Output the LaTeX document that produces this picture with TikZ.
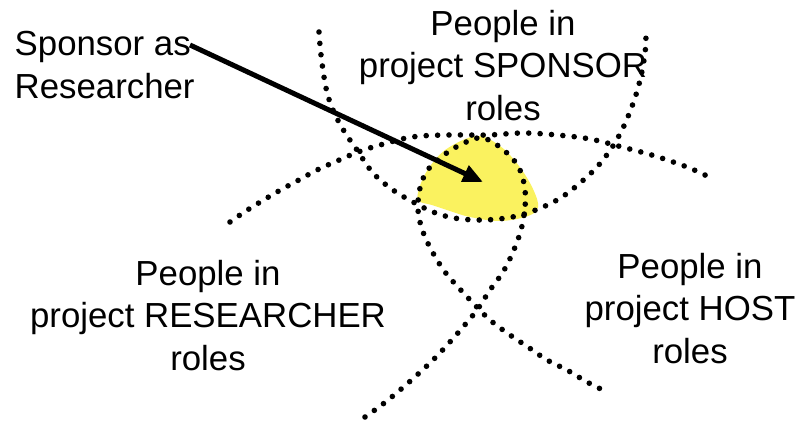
\documentclass[tikz,border=0pt]{standalone}
\usepackage{fontspec}
\setmainfont{Liberation Sans}
\usetikzlibrary{arrows.meta}
\definecolor{overlapfill}{RGB}{250,242,95}
\begin{document}
\begin{tikzpicture}[x=1pt,y=-1pt,
  lbl/.style={align=center, font=\fontsize{34.8}{42.5}\selectfont, inner sep=0pt},
  dots/.style={line width=5.6pt, line cap=round, dash pattern=on 0pt off 11.4pt},
  pointer/.style={line width=5pt, -{Triangle[length=20pt,width=17pt]}}
]
\useasboundingbox (0,0) rectangle (799,420);

% overlap of the three role groups
\fill[overlapfill] plot[smooth cycle, tension=0.6] coordinates {
  (418,200) (421,183) (431,165) (448,148) (477,136) (500,146) (519,166)
  (533,189) (538,207) (528,216) (500,221) (470,217) (450,211) (432,205)};

% sponsor boundary (U shape)
\draw[dots] plot[smooth, tension=0.6] coordinates {
  (319,32) (321,55) (326,88) (333,110) (344,131) (357,150) (373,173)
  (393,190) (413,202) (433,212) (454,218) (477,220) (499,219) (521,215)
  (543,207) (562,197) (580,183) (597,167) (611,149) (622,130) (631,109)
  (638,88) (643,66) (646,43) (645,32)};

% upper arch
\draw[dots] plot[smooth, tension=0.6] coordinates {
  (230,222) (249,209) (277,192) (297,181) (317,170) (337,161) (358,152)
  (380,145) (412,137) (447,135) (488,135) (523,133) (557,135) (590,139)
  (622,147) (655,156) (687,167) (707,176)};

% researcher / host boundaries crossing below
\draw[dots] plot[smooth, tension=0.6] coordinates {
  (365,417) (383,404) (400,390) (417,375) (434,359) (449,343) (463,327)
  (477,310) (490,290) (503,272) (513,252) (521,230) (525,207) (525,190)
  (520,170) (507,153) (483,138) (460,145) (440,158) (427,171) (420,188)
  (418,210) (423,232) (433,253) (445,272) (458,287) (473,303) (490,320)
  (510,335) (528,347) (547,360) (567,370) (587,382) (607,392)};

% labels
\node[lbl, anchor=north west, align=left] (sponsor) at (14.5,31.5) {Sponsor as\\Researcher};
\node[lbl, anchor=north] (sponsorroles) at (503,10) {People in\\project SPONSOR\\roles};
\node[lbl, anchor=north] (researcherroles) at (208,260) {People in\\project RESEARCHER\\roles};
\node[lbl, anchor=north] (hostroles) at (690,253) {People in\\project HOST\\roles};

% pointer into the overlap
\coordinate (ptrstart) at (190,45);
\coordinate (ptrtip) at (483,182);
\draw[pointer] (ptrstart) -- (ptrtip);
\end{tikzpicture}
\end{document}
